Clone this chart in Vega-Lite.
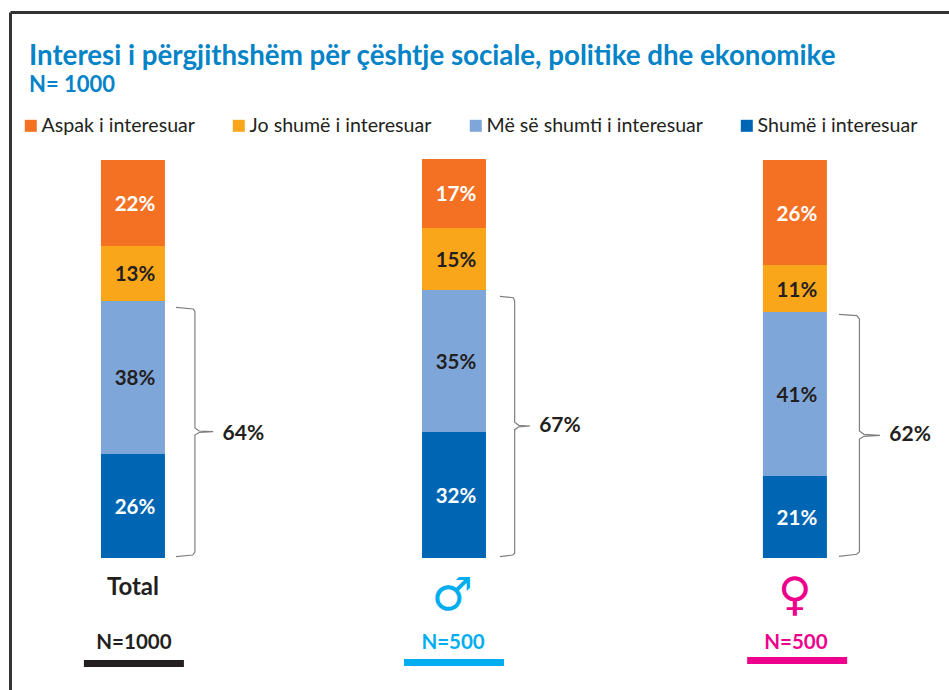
{"$schema":"https://vega.github.io/schema/vega-lite/v6.json","width":939,"height":678,"autosize":{"type":"none"},"padding":{"left":10,"top":12,"right":0,"bottom":0},"background":"white","title":{"text":"Interesi i përgjithshëm për çështje sociale, politike dhe ekonomike","subtitle":"N= 1000","anchor":"start","frame":"group","align":"left","dx":19,"dy":88,"font":"Lato","fontSize":27.7,"fontWeight":"bold","color":"#0583c7","subtitleFont":"Lato","subtitleFontSize":22,"subtitleFontWeight":"bold","subtitleColor":"#0583c7","subtitlePadding":4},"config":{"view":{"stroke":null},"font":"Lato"},"datasets":{"bars":[{"col":"Total","pos":1,"level":"Shumë i interesuar","rank":1,"value":26.07,"label":"26%"},{"col":"Total","pos":1,"level":"Më së shumti i interesuar","rank":2,"value":38.35,"label":"38%"},{"col":"Total","pos":1,"level":"Jo shumë i interesuar","rank":3,"value":13.78,"label":"13%"},{"col":"Total","pos":1,"level":"Aspak i interesuar","rank":4,"value":21.55,"label":"22%"},{"col":"Male","pos":2,"level":"Shumë i interesuar","rank":1,"value":31.58,"label":"32%"},{"col":"Male","pos":2,"level":"Më së shumti i interesuar","rank":2,"value":35.59,"label":"35%"},{"col":"Male","pos":2,"level":"Jo shumë i interesuar","rank":3,"value":15.54,"label":"15%"},{"col":"Male","pos":2,"level":"Aspak i interesuar","rank":4,"value":17.29,"label":"17%"},{"col":"Female","pos":3.062,"level":"Shumë i interesuar","rank":1,"value":20.55,"label":"21%"},{"col":"Female","pos":3.062,"level":"Më së shumti i interesuar","rank":2,"value":41.1,"label":"41%"},{"col":"Female","pos":3.062,"level":"Jo shumë i interesuar","rank":3,"value":11.78,"label":"11%"},{"col":"Female","pos":3.062,"level":"Aspak i interesuar","rank":4,"value":26.32,"label":"26%"}],"brackets":[{"col":"Total","i":1,"bx":1.134,"by":62.83},{"col":"Total","i":2,"bx":1.188,"by":62.4},{"col":"Total","i":3,"bx":1.193,"by":61.73},{"col":"Total","i":4,"bx":1.193,"by":32.58},{"col":"Total","i":5,"bx":1.206,"by":31.83},{"col":"Total","i":6,"bx":1.25,"by":31.65},{"col":"Total","i":7,"bx":1.206,"by":31.45},{"col":"Total","i":8,"bx":1.193,"by":30.83},{"col":"Total","i":9,"bx":1.193,"by":1.5},{"col":"Total","i":10,"bx":1.186,"by":0.75},{"col":"Total","i":11,"bx":1.134,"by":0.33},{"col":"Male","i":1,"bx":2.143,"by":65.59},{"col":"Male","i":2,"bx":2.185,"by":65.24},{"col":"Male","i":3,"bx":2.189,"by":64.41},{"col":"Male","i":4,"bx":2.189,"by":34.01},{"col":"Male","i":5,"bx":2.202,"by":33.26},{"col":"Male","i":6,"bx":2.237,"by":33.08},{"col":"Male","i":7,"bx":2.202,"by":32.88},{"col":"Male","i":8,"bx":2.189,"by":32.16},{"col":"Male","i":9,"bx":2.189,"by":1.18},{"col":"Male","i":10,"bx":2.183,"by":0.75},{"col":"Male","i":11,"bx":2.143,"by":0.33},{"col":"Female","i":1,"bx":3.199,"by":61.08},{"col":"Female","i":2,"bx":3.255,"by":60.73},{"col":"Female","i":3,"bx":3.263,"by":59.9},{"col":"Female","i":4,"bx":3.263,"by":31.83},{"col":"Female","i":5,"bx":3.277,"by":31},{"col":"Female","i":6,"bx":3.327,"by":30.75},{"col":"Female","i":7,"bx":3.277,"by":30.5},{"col":"Female","i":8,"bx":3.263,"by":29.82},{"col":"Female","i":9,"bx":3.263,"by":1.58},{"col":"Female","i":10,"bx":3.255,"by":0.93},{"col":"Female","i":11,"bx":3.199,"by":0.43}],"shares":[{"col":"Total","sx":1.344,"sy":31.65,"share":"64%"},{"col":"Male","sx":2.33,"sy":33.5,"share":"67%"},{"col":"Female","sx":3.421,"sy":31.25,"share":"62%"}],"groups":[{"col":"Total","pos":1,"name":"Total","glyph":"","n":"N=1000","upos":1.003,"uy":-26.44},{"col":"Male","pos":1.994,"name":"","glyph":"♂","n":"N=500","upos":2,"uy":-26.19},{"col":"Female","pos":3.062,"name":"","glyph":"♀","n":"N=500","upos":3.069,"uy":-25.69}]},"layer":[{"data":{"name":"bars"},"transform":[{"stack":"value","groupby":["col"],"sort":[{"field":"rank","order":"ascending"}],"as":["y0","y1"]}],"mark":{"type":"bar","size":64},"encoding":{"x":{"field":"pos","type":"quantitative","scale":{"domain":[0.617,3.542],"nice":false,"zero":false,"padding":0},"axis":{"orient":"top","title":null,"labels":false,"ticks":false,"grid":false,"domain":true,"domainColor":"#333333","domainWidth":3}},"y":{"field":"y0","type":"quantitative","scale":{"domain":[-33.08,136.84],"nice":false,"zero":false},"axis":{"orient":"left","title":null,"labels":false,"ticks":false,"grid":false,"domain":true,"domainColor":"#333333","domainWidth":3}},"y2":{"field":"y1"},"color":{"field":"level","type":"nominal","scale":{"domain":["Aspak i interesuar","Jo shumë i interesuar","Më së shumti i interesuar","Shumë i interesuar"],"range":["#f47124","#faa61a","#7fa6d9","#0066b3"]},"legend":{"orient":"none","legendX":11,"legendY":104,"direction":"horizontal","columns":4,"gridAlign":"none","title":null,"symbolType":"square","symbolSize":144,"symbolStrokeWidth":0,"symbolOpacity":1,"labelFont":"Lato","labelFontSize":19.6,"labelColor":"#231f20","labelOffset":1,"labelLimit":300,"columnPadding":34,"symbolOffset":0,"padding":0}}}},{"data":{"name":"bars"},"transform":[{"stack":"value","groupby":["col"],"sort":[{"field":"rank","order":"ascending"}],"as":["y0","y1"]},{"calculate":"(datum.y0+datum.y1)/2","as":"mid"}],"mark":{"type":"text","font":"Lato","fontSize":20.5,"fontWeight":"bold","baseline":"middle","dy":2,"dx":2},"encoding":{"x":{"field":"pos","type":"quantitative"},"y":{"field":"mid","type":"quantitative"},"text":{"field":"label"},"color":{"condition":{"test":"datum.rank==1||datum.rank==4","value":"#ffffff"},"value":"#231f20"}}},{"data":{"name":"brackets"},"mark":{"type":"line","stroke":"#808080","strokeWidth":1.2},"encoding":{"x":{"field":"bx","type":"quantitative"},"y":{"field":"by","type":"quantitative"},"detail":{"field":"col"},"order":{"field":"i"}}},{"data":{"name":"shares"},"mark":{"type":"text","font":"Lato","fontSize":21,"fontWeight":"bold","baseline":"middle","color":"#231f20","dy":2},"encoding":{"x":{"field":"sx","type":"quantitative"},"y":{"field":"sy","type":"quantitative"},"text":{"field":"share"}}},{"data":{"name":"groups"},"mark":{"type":"text","font":"Lato","fontSize":24,"fontWeight":"bold","baseline":"middle","color":"#231f20","dy":2},"encoding":{"x":{"field":"pos","type":"quantitative"},"y":{"datum":-7},"text":{"field":"name"}}},{"data":{"name":"groups"},"mark":{"type":"text","font":"DejaVu Sans","fontSize":46,"baseline":"middle"},"encoding":{"x":{"field":"pos","type":"quantitative"},"y":{"datum":-9.5},"text":{"field":"glyph"},"color":{"condition":{"test":"datum.col=='Male'","value":"#00aeef"},"value":"#ec008c"}}},{"data":{"name":"groups"},"mark":{"type":"text","font":"Lato","fontSize":20.5,"fontWeight":"bold","baseline":"middle","dy":1,"dx":1},"encoding":{"x":{"field":"pos","type":"quantitative"},"y":{"datum":-21.05},"text":{"field":"n"},"color":{"condition":[{"test":"datum.col=='Male'","value":"#00aeef"},{"test":"datum.col=='Female'","value":"#ec008c"}],"value":"#231f20"}}},{"data":{"name":"groups"},"mark":{"type":"tick","orient":"horizontal","size":100,"thickness":7,"opacity":1},"encoding":{"x":{"field":"upos","type":"quantitative"},"y":{"field":"uy","type":"quantitative"},"color":{"condition":[{"test":"datum.col=='Male'","value":"#00aeef"},{"test":"datum.col=='Female'","value":"#ec008c"}],"value":"#231f20"}}}]}
